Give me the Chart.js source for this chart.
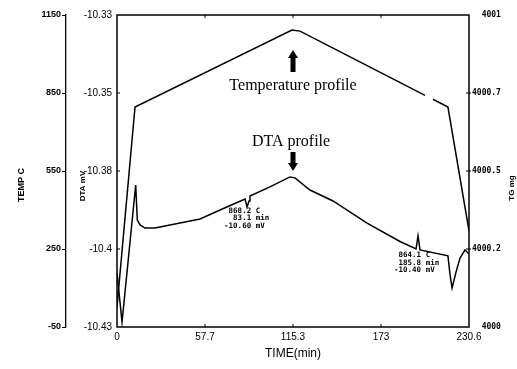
<!DOCTYPE html>
<html>
<head>
<meta charset="utf-8">
<script src="https://cdn.jsdelivr.net/npm/chart.js@4.4.1/dist/chart.umd.min.js"></script>
<style>
  html, body { margin: 0; padding: 0; background: #fff; }
  #wrap { width: 517px; height: 369px; }
</style>
</head>
<body>
<div id="wrap"><canvas id="dtaChart" width="517" height="369"></canvas></div>
<script>
// axis ticks (labels are the rounded values printed on the original)
const timeTicks = [0, 57.65, 115.3, 172.95, 230.6];
const timeTickLabels = ['0', '57.7', '115.3', '173', '230.6'];
const tempTicks = [-50, 250, 550, 850, 1150];
const tempTickLabels = ['-50', '250', '550', '850', '1150'];
const dtaTicks = [-10.43, -10.405, -10.38, -10.355, -10.33];
const dtaTickLabels = ['-10.43', '-10.4', '-10.38', '-10.35', '-10.33'];
const tgTicks = [4000, 4000.25, 4000.5, 4000.75, 4001];
const tgTickLabels = ['4000', '4000.2', '4000.5', '4000.7', '4001'];

// temperature profile (TEMP C vs TIME min), null = break in the trace
const tempTime = [0, 11.8, 114.6, 119.9, 201.8, 204.4, 207.0, 216.8, 230.6];
const tempValues = [27, 796, 1092, 1088, 841, null, 826, 796, 320];

// DTA profile (DTA mV vs TIME min)
const dtaTime = [0, 3.3, 12.25, 13.3, 15.1, 18.3, 24.9, 31.4, 54.4, 67.5, 83.9, 85.2, 86.5, 87.1,
  100.2, 113.3, 116.6, 126.4, 141.5, 163.8, 185.4, 195.9, 197.2, 198.5, 216.8, 218.2, 219.5,
  222.1, 224.7, 228.0, 230.6];
const dtaValues = [-10.4127, -10.4284, -10.3845, -10.3957, -10.3973, -10.3983, -10.3983, -10.3976,
  -10.3954, -10.3925, -10.3890, -10.3915, -10.3896, -10.3880, -10.3851, -10.3819, -10.3822,
  -10.3861, -10.3896, -10.3967, -10.4026, -10.4050, -10.4008, -10.4053, -10.4072, -10.4133,
  -10.4175, -10.4124, -10.4079, -10.4053, -10.4066];

// peak readouts printed on the trace
const note1 = [' 868.2 C', '  83.1 min', '-10.60 mV'];
const note2 = [' 864.1 C', ' 185.8 min', '-10.40 mV'];

const toPoints = (xs, ys) => xs.map((x, i) => ({ x, y: ys[i] }));

function arrow(ctx, x, yFrom, yTo) {
  const dir = yTo < yFrom ? -1 : 1;
  const headLen = 8;
  ctx.fillRect(x - 2.5, Math.min(yFrom, yTo - dir * headLen), 5, Math.abs(yTo - yFrom) - headLen + 1);
  ctx.beginPath();
  ctx.moveTo(x - 5, yTo - dir * headLen);
  ctx.lineTo(x + 5, yTo - dir * headLen);
  ctx.lineTo(x, yTo);
  ctx.closePath();
  ctx.fill();
}

const decorations = {
  id: 'decorations',
  afterDraw(chart) {
    const { ctx, chartArea: a, scales } = chart;
    const { x, dta, tg } = scales;
    ctx.save();
    ctx.strokeStyle = '#000';
    ctx.fillStyle = '#000';

    // plot frame
    ctx.lineWidth = 1.5;
    ctx.strokeRect(a.left, a.top, a.right - a.left, a.bottom - a.top);

    // inward tick marks
    ctx.lineWidth = 1;
    ctx.beginPath();
    timeTicks.slice(1, -1).forEach(v => {
      const px = x.getPixelForValue(v);
      ctx.moveTo(px, a.bottom); ctx.lineTo(px, a.bottom - 3);
      ctx.moveTo(px, a.top); ctx.lineTo(px, a.top + 3);
    });
    dtaTicks.slice(1, -1).forEach(v => {
      const py = dta.getPixelForValue(v);
      ctx.moveTo(a.left, py); ctx.lineTo(a.left + 3, py);
    });
    tgTicks.slice(1, -1).forEach(v => {
      const py = tg.getPixelForValue(v);
      ctx.moveTo(a.right + 2, py); ctx.lineTo(a.right - 3, py);
    });
    ctx.stroke();

    // axis titles
    ctx.textAlign = 'center';
    ctx.textBaseline = 'middle';
    const vTitle = (text, cx, cy, font) => {
      ctx.save();
      ctx.translate(cx, cy);
      ctx.rotate(-Math.PI / 2);
      ctx.font = font;
      ctx.fillText(text, 0, 0);
      ctx.restore();
    };
    vTitle('TEMP C', 22, 185, 'bold 9px "Liberation Sans"');
    vTitle('DTA mV', 83, 186, 'bold 8px "Liberation Sans"');
    vTitle('TG mg', 512, 188, 'bold 8px "Liberation Sans"');
    ctx.font = '12px "Liberation Sans"';
    ctx.fillText('TIME(min)', (a.left + a.right) / 2, 354);

    // profile labels and arrows
    const cx = x.getPixelForValue(115.3);
    ctx.font = '16px "Liberation Serif"';
    ctx.fillText('Temperature profile', cx, 86);
    ctx.fillText('DTA profile', cx - 2, 142);
    arrow(ctx, cx, 71, 50);
    arrow(ctx, cx, 152, 171);

    // peak readouts
    ctx.textAlign = 'left';
    ctx.font = 'bold 7.5px "DejaVu Sans Mono"';
    note1.forEach((t, i) => ctx.fillText(t, x.getPixelForValue(83.9) - 21, 211 + i * 7.5));
    note2.forEach((t, i) => ctx.fillText(t, x.getPixelForValue(195.9) - 22, 255.5 + i * 7.5));

    ctx.restore();
  }
};

new Chart(document.getElementById('dtaChart'), {
  type: 'line',
  data: {
    datasets: [
      {
        label: 'Temperature profile',
        data: toPoints(tempTime, tempValues),
        xAxisID: 'x', yAxisID: 'temp',
        borderColor: '#000', borderWidth: 1.5, pointRadius: 0, tension: 0, spanGaps: false
      },
      {
        label: 'DTA profile',
        data: toPoints(dtaTime, dtaValues),
        xAxisID: 'x', yAxisID: 'dta',
        borderColor: '#000', borderWidth: 1.5, pointRadius: 0, tension: 0
      }
    ]
  },
  options: {
    responsive: false,
    animation: false,
    layout: { padding: { top: 15, left: 0, right: 0, bottom: 0 } },
    plugins: { legend: { display: false }, tooltip: { enabled: false } },
    scales: {
      x: {
        type: 'linear', position: 'bottom', min: 0, max: 230.6,
        afterBuildTicks: s => { s.ticks = timeTicks.map(v => ({ value: v })); },
        afterFit: s => { s.height = 42; },
        grid: { display: false, drawTicks: false }, border: { display: false },
        ticks: {
          padding: 4, color: '#000', autoSkip: false, maxRotation: 0,
          font: { family: 'Liberation Sans', size: 10 },
          callback: (v, i) => timeTickLabels[i]
        }
      },
      temp: {
        type: 'linear', position: 'left', weight: 1, min: -50, max: 1150,
        afterBuildTicks: s => { s.ticks = tempTicks.map(v => ({ value: v })); },
        afterFit: s => { s.width = 66; },
        grid: { display: true, drawOnChartArea: false, drawTicks: true, tickLength: 4, color: '#000' },
        border: { display: true, color: '#000', width: 1.3 },
        ticks: {
          padding: 1, color: '#000',
          font: { family: 'Liberation Sans', size: 9, weight: 'bold' },
          callback: (v, i) => tempTickLabels[i]
        }
      },
      dta: {
        type: 'linear', position: 'left', weight: 0, min: -10.43, max: -10.33,
        afterBuildTicks: s => { s.ticks = dtaTicks.map(v => ({ value: v })); },
        afterFit: s => { s.width = 51; },
        grid: { display: false, drawTicks: false }, border: { display: false },
        ticks: {
          padding: 5, color: '#000',
          font: { family: 'Liberation Sans', size: 10 },
          callback: (v, i) => dtaTickLabels[i]
        }
      },
      tg: {
        type: 'linear', position: 'right', min: 4000, max: 4001,
        afterBuildTicks: s => { s.ticks = tgTicks.map(v => ({ value: v })); },
        afterFit: s => { s.width = 48; },
        grid: { display: false, drawTicks: false }, border: { display: false },
        ticks: {
          padding: 3, color: '#000',
          font: { family: 'DejaVu Sans Mono', size: 8, weight: 'bold' },
          callback: (v, i) => tgTickLabels[i].padStart(6)
        }
      }
    }
  },
  plugins: [decorations]
});
</script>
</body>
</html>
